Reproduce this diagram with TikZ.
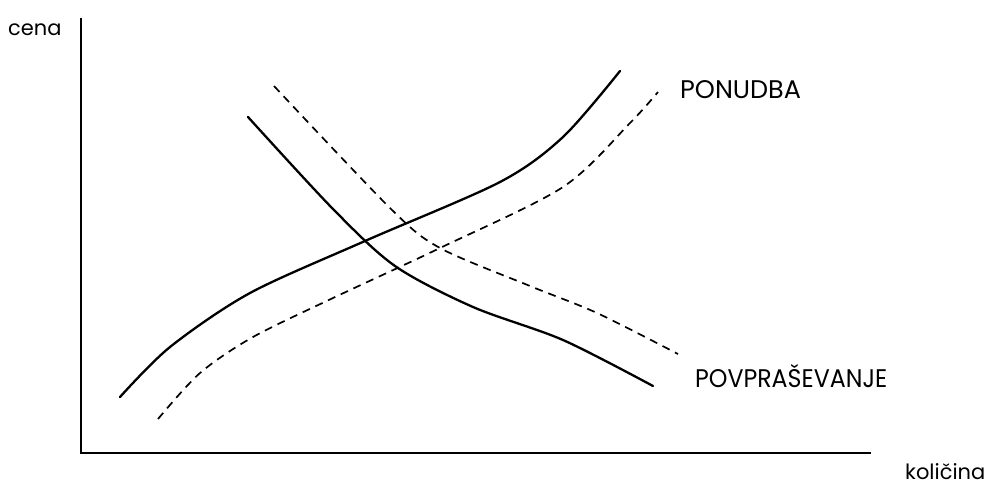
\documentclass[tikz,border=0pt]{standalone}
\usepackage{fontspec}
\setmainfont{Poppins}
\tikzset{
  axisline/.style={line width=2pt, line cap=rect},
  solidcurve/.style={line width=2.3pt, line cap=round},
  dashcurve/.style={line width=1.7pt, dash pattern=on 8pt off 6pt},
  caplabel/.style={anchor=base west, inner sep=0pt, font=\fontsize{25.5}{29}\selectfont},
  axlabel/.style={anchor=base west, inner sep=0pt, font=\fontsize{21}{24}\selectfont},
}
\begin{document}
\begin{tikzpicture}[x=1pt,y=-1pt]
\useasboundingbox (0,0) rectangle (990,485);
% axes
\coordinate (ytop) at (80.5,19);
\coordinate (origin) at (80.5,453);
\coordinate (xend) at (870,453);
\draw[axisline] (ytop) -- (origin) -- (xend);
% supply (solid)
\draw[solidcurve] plot[smooth] coordinates {(120,397) (170,347) (250,293) (365,241) (500,182) (563,137) (620,71)};
% supply (dashed)
\draw[dashcurve] plot[smooth] coordinates {(158,419) (200,373) (253,337) (333,298) (440,248) (563,187) (630,123) (658,92)};
% demand (solid)
\draw[solidcurve] plot[smooth] coordinates {(248,117) (333,209) (395,266) (473,307) (563,340) (653,386)};
% demand (dashed)
\draw[dashcurve] plot[smooth] coordinates {(274,86) (391,209) (440,248) (530,286) (597,313) (678,354)};
% labels
\node[axlabel] (cena) at (8,35) {cena};
\node[axlabel] (kolicina) at (905,479) {količina};
\node[caplabel] (ponudba) at (680,98) {PONUDBA};
\node[caplabel, xscale=0.93] (povp) at (695,387) {POVPRAŠEVANJE};
\end{tikzpicture}
\end{document}
